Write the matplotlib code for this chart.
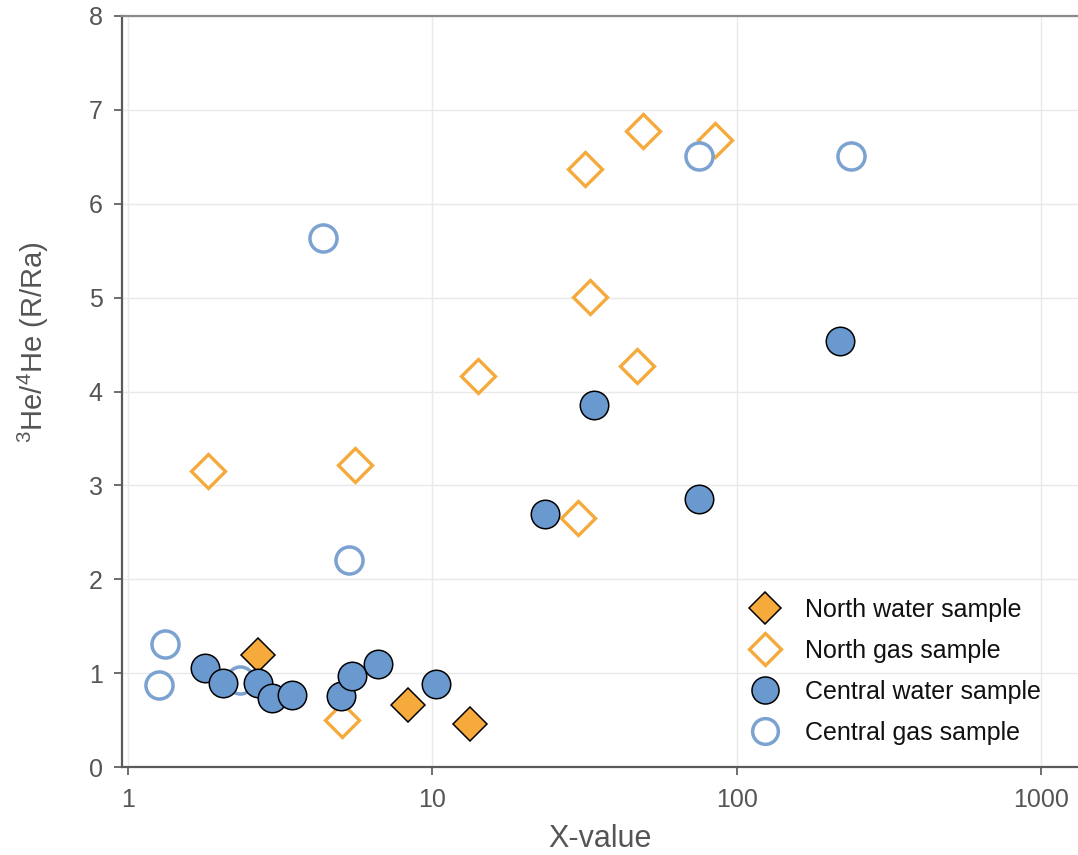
import matplotlib
matplotlib.use("Agg")
import matplotlib.pyplot as plt
from matplotlib.ticker import FixedLocator, NullLocator

# ── Data ───────────────────────────────────────────────────
north_water_x = [2.67, 8.33, 13.3]
north_water_y = [1.19, 0.66, 0.46]

north_gas_x = [1.83, 5.58, 5.06, 14.1, 31.8, 49.3, 85.1, 33.0, 47.2, 30.2]
north_gas_y = [3.15, 3.22, 0.50, 4.16, 6.37, 6.78, 6.68, 5.01, 4.27, 2.65]

central_water_x = [1.79, 2.05, 2.67, 2.97, 3.46, 5.02, 5.45, 6.64, 10.3, 23.5, 34.1, 75.5, 218]
central_water_y = [1.05, 0.89, 0.89, 0.73, 0.77, 0.76, 0.97, 1.10, 0.88, 2.70, 3.86, 2.86, 4.54]

central_gas_x = [1.26, 1.32, 2.33, 4.38, 5.33, 75, 237]
central_gas_y = [0.87, 1.31, 0.93, 5.64, 2.20, 6.51, 6.51]

x_ticks = [1, 10, 100, 1000]
x_tick_labels = ["1", "10", "100", "1000"]
y_ticks = [0, 1, 2, 3, 4, 5, 6, 7, 8]

# ── Style ──────────────────────────────────────────────────
ORANGE = "#F7AA3C"
BLUE = "#6A99D0"
BLUE_EDGE = "#7BA2D0"
TEXT = "#555555"
GRID = "#E9E9E9"

plt.rcParams.update({
    "font.family": ["Liberation Sans", "DejaVu Sans"],
    "mathtext.default": "regular",
})

fig = plt.figure(figsize=(10.78, 8.55), dpi=100)
ax = fig.add_axes([0.1132, 0.1029, 0.8868, 0.8784])

ax.plot(north_water_x, north_water_y, ls="none", marker="D", ms=17.5,
        mfc=ORANGE, mec="black", mew=1.1, zorder=3, label="North water sample")
ax.plot(north_gas_x, north_gas_y, ls="none", marker="D", ms=17.5,
        mfc="white", mec=ORANGE, mew=2.4, zorder=3, label="North gas sample")
ax.plot(central_gas_x, central_gas_y, ls="none", marker="o", ms=19.5,
        mfc="white", mec=BLUE_EDGE, mew=2.5, zorder=4, label="Central gas sample")
ax.plot(central_water_x, central_water_y, ls="none", marker="o", ms=20.5,
        mfc=BLUE, mec="black", mew=1.1, zorder=5, label="Central water sample")

ax.set_xscale("log")
ax.set_xlim(0.955, 1325)
ax.set_ylim(0, 8)
ax.xaxis.set_major_locator(FixedLocator(x_ticks))
ax.xaxis.set_minor_locator(NullLocator())
ax.set_xticks(x_ticks, x_tick_labels)
ax.set_yticks(y_ticks)

ax.grid(True, color=GRID, lw=1.0, zorder=0)
ax.set_axisbelow(True)

ax.tick_params(axis="both", labelsize=18, colors=TEXT, length=6, width=1.2,
               direction="out", pad=8)
ax.tick_params(axis="x", pad=9)

for side in ("left", "bottom"):
    ax.spines[side].set_color("#5A5A5A")
    ax.spines[side].set_linewidth(1.6)
ax.spines["top"].set_color("#8A8A8A")
ax.spines["top"].set_linewidth(1.6)
ax.spines["right"].set_visible(False)

ax.set_xlabel("X-value", fontsize=22, color=TEXT, labelpad=9)
ax.set_ylabel("$^{3}$He/$^{4}$He (R/Ra)", fontsize=21, color=TEXT)
ax.yaxis.set_label_coords(-0.074, 0.566)

h, l = ax.get_legend_handles_labels()
order = [0, 1, 3, 2]
leg = ax.legend([h[i] for i in order], [l[i] for i in order],
                loc="lower right", bbox_to_anchor=(0.985, 0.0),
                frameon=False, fontsize=18, markerscale=0.95,
                handletextpad=0.6, labelspacing=0.68)
for t in leg.get_texts():
    t.set_color("#111111")

fig.savefig("out.png", dpi=100)
